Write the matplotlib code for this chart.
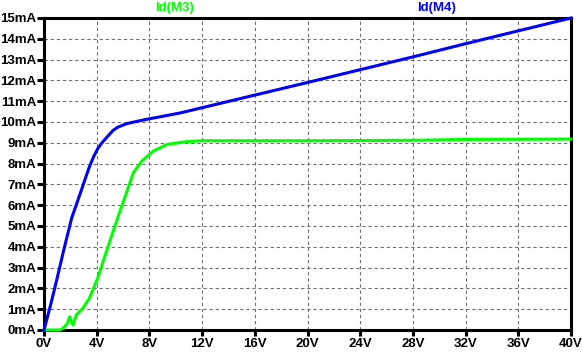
import matplotlib
matplotlib.use("Agg")
import matplotlib.pyplot as plt
from matplotlib.ticker import FuncFormatter

# Data
blue_v = [0, 0.5, 1.0, 1.5, 2.1, 2.85, 3.2, 3.48, 3.8, 4.1, 4.4, 4.73, 5.25, 5.6, 6.27, 7.12, 7.8, 10.3, 20, 28, 32.1, 40]
blue_i = [0, 1.2, 2.5, 3.85, 5.38, 6.75, 7.4, 7.9, 8.38, 8.74, 9.0, 9.24, 9.6, 9.75, 9.92, 10.04, 10.13, 10.43, 11.9, 13.13, 13.78, 15.0]

green_v = [0, 1.2, 1.45, 1.75, 1.96, 2.1, 2.2, 2.45, 2.95, 3.45, 4.08, 4.7, 5.2, 5.65, 6.15,
           6.78, 7.42, 8.3, 9.33, 10.6, 11.87, 16, 20, 28, 32, 40]
green_i = [0, 0, 0.08, 0.3, 0.64, 0.35, 0.24, 0.72, 1.05, 1.53, 2.5, 3.7, 4.66, 5.5, 6.4,
           7.56, 8.12, 8.6, 8.92, 9.04, 9.1, 9.1, 9.1, 9.12, 9.16, 9.18]

x_ticks = list(range(0, 41, 4))
y_ticks = list(range(0, 16))
labels = ["Id(M3)", "Id(M4)"]
colors = ["#00ff00", "#0000ff"]

plt.rcParams['font.family'] = ['Liberation Sans', 'DejaVu Sans']
fig = plt.figure(figsize=(5.83, 3.56), dpi=100)
ax = fig.add_axes([44/583, 1-330/356, (571-44)/583, (330-18)/356])

ax.plot(green_v, green_i, color=colors[0], lw=2.2, solid_joinstyle='round', zorder=3, clip_on=False)
ax.plot(blue_v, blue_i, color=colors[1], lw=2.2, solid_joinstyle='round', zorder=3, clip_on=False)

ax.set_xlim(0, 40)
ax.set_ylim(0, 15)
ax.set_xticks(x_ticks)
ax.set_yticks(y_ticks)
ax.xaxis.set_major_formatter(FuncFormatter(lambda v, p: f"{int(v)}V"))
ax.yaxis.set_major_formatter(FuncFormatter(lambda v, p: f"{int(v)}mA"))
ax.grid(True, color='#707070', linestyle=(0, (3, 2.5)), lw=0.8)
for s in ax.spines.values():
    s.set_linewidth(2.2)
    s.set_color('black')
ax.tick_params(axis='both', direction='out', width=2.2, color='black',
               labelsize=9.5, labelcolor='black')
ax.tick_params(axis='y', length=5, pad=0.5)
ax.tick_params(axis='x', length=4, pad=1.5)
for t in ax.get_xticklabels() + ax.get_yticklabels():
    t.set_fontweight('bold')

fig.text(175/583, 1-8/356, labels[0], color=colors[0], fontsize=9.5, fontweight='bold',
         ha='center', va='center')
fig.text(437/583, 1-8/356, labels[1], color=colors[1], fontsize=9.5, fontweight='bold',
         ha='center', va='center')

fig.savefig("out.png", dpi=100)
